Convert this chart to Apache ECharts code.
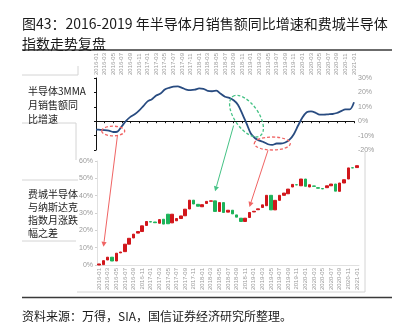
<!DOCTYPE html>
<html>
<head>
<meta charset="utf-8">
<script src="https://cdn.jsdelivr.net/npm/echarts@6/dist/echarts.min.js"></script>
<style>
  html, body { margin: 0; padding: 0; background: #fff; }
  #chart { width: 400px; height: 327px; }
</style>
</head>
<body>
<div id="chart"></div>
<script>
// Monthly categories, 2016-01 .. 2021-01
const months = [
  '2016-01','2016-02','2016-03','2016-04','2016-05','2016-06','2016-07','2016-08','2016-09','2016-10','2016-11','2016-12',
  '2017-01','2017-02','2017-03','2017-04','2017-05','2017-06','2017-07','2017-08','2017-09','2017-10','2017-11','2017-12',
  '2018-01','2018-02','2018-03','2018-04','2018-05','2018-06','2018-07','2018-08','2018-09','2018-10','2018-11','2018-12',
  '2019-01','2019-02','2019-03','2019-04','2019-05','2019-06','2019-07','2019-08','2019-09','2019-10','2019-11','2019-12',
  '2020-01','2020-02','2020-03','2020-04','2020-05','2020-06','2020-07','2020-08','2020-09','2020-10','2020-11','2020-12',
  '2021-01'
];

// Semiconductor 3MMA monthly sales, YoY growth (%)
const salesGrowth = [
  -5.8, -6.0, -6.2, -6.6, -7.5, -7.2, -3.5, 0.3, 3.0, 4.8,
  7.3, 10.5, 13.8, 15.3, 17.8, 19.2, 22.0, 23.2, 24.0, 24.2,
  23.2, 22.0, 21.6, 21.9, 22.8, 22.5, 21.0, 20.8, 21.2, 19.0,
  17.0, 16.2, 14.5, 11.5, 5.3, -1.5, -8.5, -11.8, -13.5, -14.5,
  -16.0, -16.5, -15.5, -15.5, -14.8, -12.8, -9.0, -3.0, 2.5, 6.2,
  6.8, 6.0, 4.5, 4.6, 4.8, 5.0, 5.7, 7.0, 8.2, 8.2, 13.2
];

// SOX minus Nasdaq monthly change spread, cumulative (%): open / close per month
const spreadOpen = [
  0.0, 0.2, 2.9, 4.5, 2.3, 7.0, 7.7, 12.0, 15.6, 18.4,
  19.3, 22.8, 25.0, 24.8, 24.1, 26.4, 29.3, 24.3, 25.5, 26.8,
  28.4, 32.3, 37.4, 35.0, 33.6, 35.5, 36.8, 37.0, 30.9, 36.0,
  30.5, 31.6, 28.9, 27.0, 25.1, 27.4, 30.6, 31.9, 33.2, 34.2,
  40.2, 31.8, 37.3, 40.2, 41.1, 45.0, 46.3, 45.7, 49.6, 45.0,
  45.6, 44.6, 44.1, 44.6, 45.7, 46.7, 42.5, 47.3, 49.6, 56.1, 56.2
];
const spreadClose = [
  0.6, 2.5, 4.5, 2.3, 6.8, 7.5, 12.0, 15.4, 17.8, 19.3,
  22.6, 25.1, 24.8, 24.4, 26.2, 23.6, 23.8, 29.3, 26.8, 28.3,
  32.2, 37.4, 35.2, 33.9, 34.8, 36.7, 37.0, 30.9, 36.0, 30.3,
  31.6, 29.5, 27.6, 25.1, 27.0, 30.3, 31.0, 32.4, 34.7, 40.2,
  31.8, 37.3, 40.2, 41.5, 43.8, 46.5, 46.2, 49.6, 45.4, 46.3,
  45.4, 44.3, 43.9, 45.7, 46.7, 42.6, 47.3, 49.2, 56.0, 56.0, 57.3
];

const growthTicks = { min: -20, max: 30, step: 10 };
const spreadTicks = { min: 0, max: 60, step: 10 };

const candleData = spreadOpen.map((o, i) => {
  const c = spreadClose[i];
  return [o, c, Math.min(o, c), Math.max(o, c)];
});

const FONT = '"Noto Sans CJK SC", "Noto Sans", sans-serif';
const TICK_FONT = '"Liberation Sans", Arial, sans-serif';
const grey = '#9a9a9a';

const chart = echarts.init(document.getElementById('chart'), null, { renderer: 'canvas' });

chart.setOption({
  animation: false,
  backgroundColor: '#fff',
  grid: [
    { left: 96, right: 46, top: 78, height: 72 },
    { left: 97, right: 41, top: 161, height: 104 }
  ],
  xAxis: [
    { // zero line of the growth panel
      gridIndex: 0, type: 'category', data: months, boundaryGap: false,
      axisLine: { onZero: true, onZeroAxisIndex: 0, lineStyle: { color: '#111', width: 1 } },
      axisTick: { show: true, interval: 1, length: 2, lineStyle: { color: '#111' } },
      axisLabel: { show: false }, splitLine: { show: false }
    },
    { // date labels above the growth panel
      gridIndex: 0, type: 'category', data: months, boundaryGap: false, position: 'top',
      axisLine: { show: false }, axisTick: { show: false },
      axisLabel: { interval: 1, rotate: 90, fontSize: 6, color: grey, margin: 3, fontFamily: TICK_FONT }
    },
    { // spread panel
      gridIndex: 1, type: 'category', data: months, boundaryGap: true,
      axisLine: { lineStyle: { color: '#e0e0e0' } }, axisTick: { show: false },
      axisLabel: { interval: 1, rotate: 90, fontSize: 6, color: grey, margin: 3, fontFamily: TICK_FONT }
    }
  ],
  yAxis: [
    {
      gridIndex: 0, type: 'value', position: 'right',
      min: growthTicks.min, max: growthTicks.max, interval: growthTicks.step,
      axisLine: { show: false }, axisTick: { show: false }, splitLine: { show: false },
      axisLabel: { formatter: '{value}%', fontSize: 7, color: grey, margin: 4, fontFamily: TICK_FONT }
    },
    {
      gridIndex: 0, type: 'value', position: 'left',
      min: growthTicks.min, max: growthTicks.max, interval: growthTicks.step,
      axisLine: { show: true, lineStyle: { color: '#111', width: 1 } },
      axisTick: { show: true, length: 2, lineStyle: { color: '#111' } },
      axisLabel: { show: false }, splitLine: { show: false }
    },
    {
      gridIndex: 1, type: 'value', position: 'left',
      min: spreadTicks.min, max: spreadTicks.max, interval: spreadTicks.step,
      axisLine: { show: true, lineStyle: { color: '#e0e0e0' } },
      axisTick: { show: true, length: 2, lineStyle: { color: '#d0d0d0' } },
      splitLine: { show: false },
      axisLabel: { formatter: '{value}%', fontSize: 7, color: grey, margin: 4, fontFamily: TICK_FONT }
    }
  ],
  series: [
    {
      type: 'line', xAxisIndex: 0, yAxisIndex: 0, data: salesGrowth,
      smooth: 0.3, symbol: 'none',
      lineStyle: { color: '#284b80', width: 1.8 }
    },
    {
      type: 'candlestick', xAxisIndex: 2, yAxisIndex: 2, data: candleData,
      barWidth: 3,
      itemStyle: { color: '#d1161b', color0: '#1db35a', borderColor: '#d1161b', borderColor0: '#1db35a', borderWidth: 1 }
    }
  ]
});

// ---- annotations anchored to data coordinates ----
function toTop(p) { return chart.convertToPixel({ xAxisIndex: 0, yAxisIndex: 0 }, p); }
function toBottom(p) { return chart.convertToPixel({ xAxisIndex: 2, yAxisIndex: 2 }, p); }

function ellipse(center, rx, ry, color, rotDeg) {
  return {
    type: 'ellipse', x: center[0], y: center[1], rotation: (rotDeg || 0) * Math.PI / 180,
    shape: { cx: 0, cy: 0, rx: rx, ry: ry },
    style: { fill: 'none', stroke: color, lineWidth: 1.3, lineDash: [3, 2] },
    z: 50
  };
}
function arrow(from, to, color) {
  const dx = to[0] - from[0], dy = to[1] - from[1];
  const len = Math.sqrt(dx * dx + dy * dy);
  const ux = dx / len, uy = dy / len;
  const hl = 5, hw = 2.6;
  const bx = to[0] - ux * hl, by = to[1] - uy * hl;
  return [
    { type: 'line', shape: { x1: from[0], y1: from[1], x2: bx, y2: by },
      style: { stroke: color, lineWidth: 1 }, z: 50 },
    { type: 'polygon', shape: { points: [[to[0], to[1]], [bx - uy * hw, by + ux * hw], [bx + uy * hw, by - ux * hw]] },
      style: { fill: color }, z: 50 }
  ];
}
function hline(x1, x2, y, color, w) {
  return { type: 'line', shape: { x1: x1, y1: y, x2: x2, y2: y }, style: { stroke: color, lineWidth: w || 1 }, z: 1 };
}
function vline(x, y1, y2, color, w) {
  return { type: 'line', shape: { x1: x, y1: y1, x2: x, y2: y2 }, style: { stroke: color, lineWidth: w || 1 }, z: 1 };
}
function text(str, x, y, size, color, extra) {
  return Object.assign({ type: 'text', x: x, y: y,
    style: { text: str, font: size + 'px ' + FONT, fill: color, textBaseline: 'middle' }, z: 60 }, extra || {});
}

const red = '#f06464', green = '#45c285';
const tableLine = '#d4d4d4';
const graphics = [
  text('图43：2016-2019 年半导体月销售额同比增速和费城半导体', 22, 17, 14, '#1a1a1a'),
  text('指数走势复盘', 22, 37, 14, '#1a1a1a'),
  hline(22, 392, 50, '#3a3a3a', 1.5),
  hline(22, 392, 297.5, '#3a3a3a', 1.5),
  text('资料来源：万得，SIA，国信证券经济研究所整理。', 22, 310, 12, '#1a1a1a'),

  // side legend table
  hline(22, 78, 75, tableLine), vline(78, 66, 75, tableLine),
  hline(22, 76, 123, tableLine), vline(76, 123, 160, tableLine),
  hline(22, 78, 180, tableLine),
  hline(22, 76, 241, tableLine),
  vline(365, 152, 292, tableLine), hline(77, 365, 292, tableLine),
  text('半导体3MMA', 28, 86, 10, '#222'),
  text('月销售额同', 28, 100, 10, '#222'),
  text('比增速', 28, 114, 10, '#222'),
  text('费城半导体', 28, 189, 10, '#222'),
  text('与纳斯达克', 28, 202, 10, '#222'),
  text('指数月涨跌', 28, 215, 10, '#222'),
  text('幅之差', 28, 228, 10, '#222'),

  ellipse(toTop([4, -6.8]), 11.5, 4.8, red),
  ellipse(toTop([34.8, 3.5]), 24, 12, green, -55),
  ellipse(toTop([40.8, -15.5]), 18, 6.5, red)
]
  .concat(arrow(toTop([4.5, -9.7]), toBottom([1.4, 10.5]), red))
  .concat(arrow(toTop([31.5, -3]), toBottom([27.1, 42.5]), green))
  .concat(arrow(toTop([39.8, -20.2]), toBottom([35.1, 33.5]), red));

chart.setOption({ graphic: graphics });
</script>
</body>
</html>
